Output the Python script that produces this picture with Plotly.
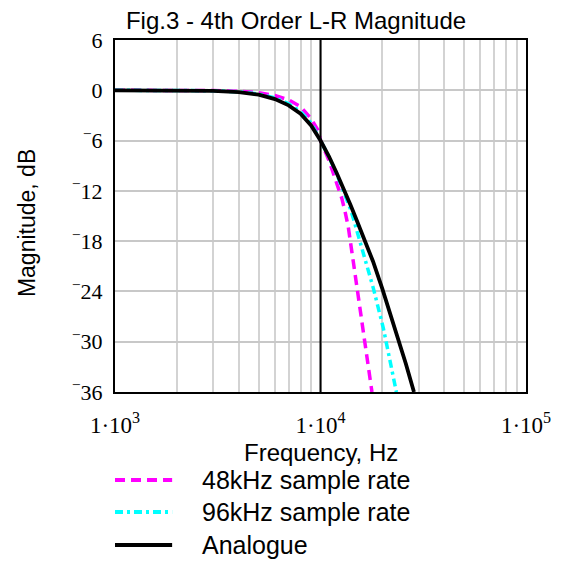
import plotly.graph_objects as go

# ---- data ----
analog_f = [1000, 2000, 3000, 4000, 5000, 6000, 7000, 8000, 9000, 10000, 11000, 12000,
            13000, 14000, 15000, 16000, 17000, 18000, 20000, 22000, 24000, 26000, 28500]
analog_db = [0, -0.01, -0.07, -0.22, -0.53, -1.05, -1.8, -2.8, -4.2, -6.0, -7.9, -9.9,
             -11.8, -13.7, -15.5, -17.2, -18.8, -20.4, -23.7, -26.9, -29.8, -32.6, -36.0]

s48_f = [1000, 2000, 3000, 4000, 5000, 6000, 7000, 8000, 9000, 9800, 10000, 11000, 12000,
         12700, 13200, 13650, 14450, 15560, 16480, 17420, 17800]
s48_db = [0, 0, -0.03, -0.12, -0.3, -0.62, -1.15, -1.95, -3.4, -4.9, -6.0, -8.4, -11.0,
          -12.9, -14.6, -16.3, -20.5, -25.8, -30.2, -34.2, -36.0]

s96_f = [1000, 2000, 3000, 4000, 5000, 6000, 7000, 8000, 9000, 10000, 11000, 12000, 13000,
         14000, 14450, 15500, 16480, 18070, 20230, 22200, 23400]
s96_db = [0, 0, -0.05, -0.18, -0.45, -0.9, -1.6, -2.55, -3.9, -6.0, -7.95, -10.0, -12.1,
          -14.2, -15.3, -17.9, -20.2, -23.6, -28.4, -33.0, -36.0]

series_names = ["48kHz sample rate", "96kHz sample rate", "Analogue"]

y_ticks = [6, 0, -6, -12, -18, -24, -30, -36]
x_decades = [1e3, 1e4, 1e5]
x_ticks = [m * d for d in [1e3, 1e4] for m in range(1, 10)] + [1e5]

def ylab(v):
    return ("<sup>\u2212</sup>" + str(abs(v))) if v < 0 else str(v)

def xlab(v):
    if v in x_decades:
        e = len(str(int(v))) - 1
        return "1\u00b710<sup>%d</sup>" % e
    return ""

styles = [
    dict(color="#FF00FF", width=3.5, dash="10px,6px"),
    dict(color="#00FFFF", width=3.5, dash="8px,4px,3px,4px"),
    dict(color="#000000", width=3.8, dash="solid"),
]

fig = go.Figure()
for f, db, name, st in zip([s48_f, s96_f, analog_f], [s48_db, s96_db, analog_db], series_names, styles):
    fig.add_trace(go.Scatter(x=f, y=db, mode="lines", name=name, line=st, showlegend=False))

serif = "Liberation Serif, Times New Roman, serif"
sans = "Liberation Sans, Arial, sans-serif"

# the page body adds an 8px margin, so the figure is 553x554
W, H = 553, 554
fig.update_layout(
    width=W, height=H,
    margin=dict(l=107, r=35, t=32, b=170, autoexpand=False),
    paper_bgcolor="white", plot_bgcolor="white",
    title=dict(text="Fig.3 - 4th Order L-R Magnitude", x=288 / W, xanchor="center",
               y=1 - 13 / H, yanchor="middle", font=dict(family=sans, size=24, color="black")),
    showlegend=False,
)
fig.update_xaxes(
    type="log", range=[3, 5], tickvals=x_ticks, ticktext=[xlab(v) for v in x_ticks],
    showgrid=True, gridcolor="#D3D3D3", gridwidth=2, automargin=False,
    showline=True, mirror=True, linecolor="black", linewidth=2, ticks="",
    tickfont=dict(family=serif, size=23, color="black"), ticklabelstandoff=11,
    zeroline=False,
)
fig.update_yaxes(
    range=[-36, 6], tickvals=y_ticks, ticktext=[ylab(v) for v in y_ticks],
    showgrid=True, gridcolor="#C8C8C8", gridwidth=2, automargin=False,
    showline=True, mirror=True, linecolor="black", linewidth=2, ticks="",
    tickfont=dict(family=serif, size=22, color="black"), ticklabelstandoff=6,
    zeroline=False,
)

# axis titles
fig.add_annotation(xref="paper", yref="paper", x=0.5, y=-0.172, text="Frequency, Hz", showarrow=False,
                   xanchor="center", yanchor="middle", font=dict(family=sans, size=24, color="black"))
fig.add_annotation(xref="paper", yref="paper", x=-0.214, y=0.48, text="Magnitude, dB", showarrow=False,
                   textangle=-90, xanchor="center", yanchor="middle",
                   font=dict(family=sans, size=23, color="black"))

# reference line at the 10 kHz decade
fig.add_shape(type="line", xref="x", yref="y domain", x0=x_decades[1], x1=x_decades[1], y0=0, y1=1,
              line=dict(color="black", width=2), layer="above")

# legend drawn below the plot
leg_y = [-0.25, -0.341, -0.435]
for name, st, yy in zip(series_names, styles, leg_y):
    fig.add_shape(type="line", xref="paper", yref="paper", x0=0.0, x1=0.139, y0=yy, y1=yy,
                  line=dict(color=st["color"], width=4, dash=st["dash"]))
    fig.add_annotation(xref="paper", yref="paper", x=0.207, y=yy, text=name, showarrow=False,
                       xanchor="left", yanchor="middle", font=dict(family=sans, size=25, color="black"))

fig.write_html("out.html")
